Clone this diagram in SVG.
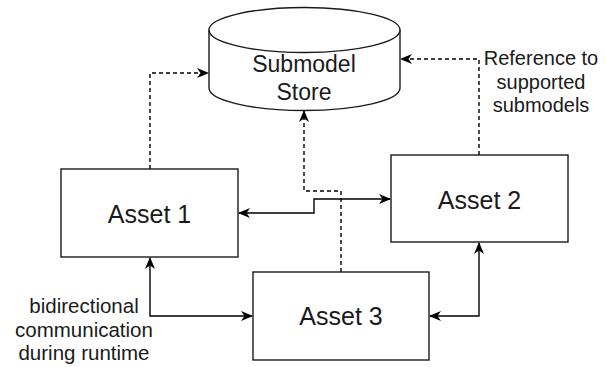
<svg xmlns="http://www.w3.org/2000/svg" width="607" height="367" viewBox="0 0 607 367">
<style>
.box{fill:#fff;stroke:#1a1a1a;stroke-width:1.4}
.t{font-family:"Liberation Sans",Arial,sans-serif;fill:#1a1a1a;text-anchor:middle}
.edge{fill:none;stroke:#000;stroke-width:1.4}
.dash{stroke-dasharray:4 3}
</style>
<defs>
<marker id="ah" viewBox="0 0 12 12" refX="11" refY="6" markerWidth="12" markerHeight="12" markerUnits="userSpaceOnUse" orient="auto-start-reverse">
<path d="M0,1 L12,6 L0,11 L3.5,6 Z" fill="#000"/>
</marker>
</defs>
<rect width="607" height="367" fill="#fff"/>
<g id="connectors">
<path class="edge dash" d="M150,169 V73 H208" marker-end="url(#ah)"/>
<path class="edge dash" d="M479,155 V59 H401" marker-end="url(#ah)"/>
<path class="edge dash" d="M341,272 V191 H304 V111" marker-end="url(#ah)"/>
<path class="edge" d="M239,213 H314 V199 H390" marker-start="url(#ah)" marker-end="url(#ah)"/>
<path class="edge" d="M150,258 V316 H252" marker-start="url(#ah)" marker-end="url(#ah)"/>
<path class="edge" d="M430,316 H479 V243" marker-start="url(#ah)" marker-end="url(#ah)"/>
</g>
<g id="store">
<path class="box" d="M209,30 A95.5,22.5 0 0 1 400,30 V88 A95.5,22.5 0 0 1 209,88 Z"/>
<path class="box" fill="none" d="M209,30 A95.5,22.5 0 0 0 400,30"/>
<text class="t" x="304" y="72" font-size="23">Submodel</text>
<text class="t" x="304" y="99.5" font-size="23">Store</text>
</g>
<g id="asset1">
<rect class="box" x="61" y="169" width="177" height="88"/>
<text class="t" x="149.5" y="223" font-size="25">Asset 1</text>
</g>
<g id="asset2">
<rect class="box" x="391" y="155" width="177" height="87"/>
<text class="t" x="479.5" y="208.5" font-size="25">Asset 2</text>
</g>
<g id="asset3">
<rect class="box" x="253" y="272" width="176" height="88"/>
<text class="t" x="341" y="325" font-size="25">Asset 3</text>
</g>
<g id="label-reference">
<text class="t" x="541" y="65" font-size="20">Reference to</text>
<text class="t" x="541" y="88.5" font-size="20">supported</text>
<text class="t" x="541" y="112" font-size="20">submodels</text>
</g>
<g id="label-bidirectional">
<text class="t" x="84" y="312.5" font-size="20.5">bidirectional</text>
<text class="t" x="84" y="336.5" font-size="20.5">communication</text>
<text class="t" x="84" y="359.5" font-size="20.5">during runtime</text>
</g>
</svg>
